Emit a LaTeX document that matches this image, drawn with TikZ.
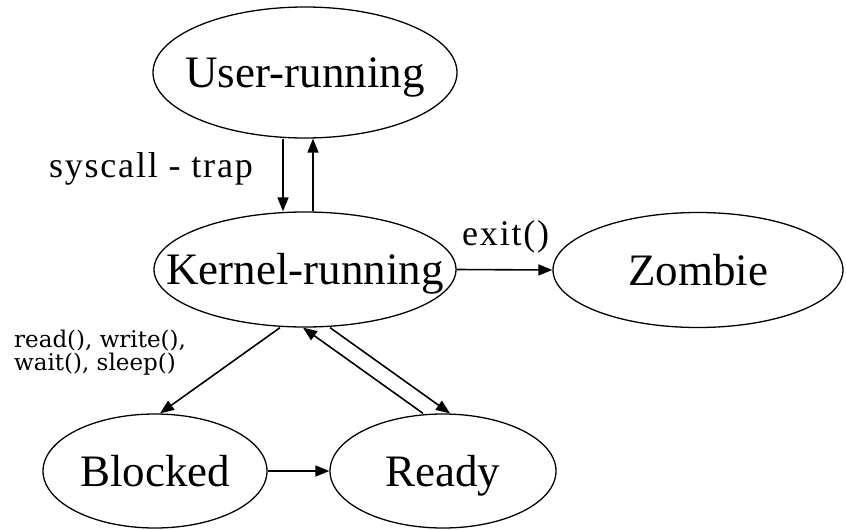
\documentclass[tikz,border=0pt]{standalone}
\usepackage{fontspec}
\setmainfont{Liberation Serif}
\newfontfamily\lblfont[LetterSpace=5]{Liberation Serif}
\newfontfamily\smallfont{DejaVu Serif}
\usetikzlibrary{shapes.geometric,arrows.meta}
\begin{document}
\begin{tikzpicture}[x=1pt,y=-1pt,
  state/.style={ellipse,draw,line width=1.3pt,inner sep=0pt,
    font=\fontsize{45}{50}\selectfont,text height=30pt,text depth=0pt},
  arr/.style={line width=1.6pt,-{Triangle[length=14pt,width=11pt]}},
  lbl/.style={font=\lblfont\fontsize{36}{40}\selectfont,inner sep=0pt},
  smalllbl/.style={font=\smallfont\fontsize{23}{23}\selectfont,inner sep=0pt,align=left}]
\useasboundingbox (0,0) rectangle (846,530);
\node[state,minimum width=304pt,minimum height=131pt] (u) at (305,72.5) {\makebox[0pt]{User-running}};
\node[state,minimum width=302pt,minimum height=115pt] (k) at (305,269.5) {\makebox[0pt]{Kernel-running}};
\node[state,minimum width=290pt,minimum height=115pt] (z) at (698,270) {\makebox[0pt]{Zombie}};
\node[state,minimum width=224pt,minimum height=114pt] (b) at (155,471) {\makebox[0pt]{Blocked}};
\node[state,minimum width=226pt,minimum height=114pt] (r) at (443,471) {\makebox[0pt]{Ready}};
\draw[arr] ([xshift=-22pt]u.south) -- ([xshift=-22pt]k.north);
\draw[arr] ([xshift=8pt]k.north) -- ([xshift=8pt]u.south);
\draw[arr] (k.east) -- (z.west);
\draw[arr] ([xshift=-25pt]k.south) -- ([xshift=5pt]b.north);
\draw[arr] ([xshift=25pt]k.south) -- ([xshift=7pt]r.north);
\draw[arr] ([xshift=-20pt]r.north) -- ([xshift=-2pt]k.south);
\draw[arr] (b.east) -- (r.west);
\node[lbl,anchor=base east] (sc) at (253,177) {syscall - trap};
\node[lbl,anchor=base west] (ex) at (462,245) {exit()};
\node[smalllbl,anchor=north west] (rw) at (14,330) {read(), write(),\\wait(), sleep()};
\end{tikzpicture}
\end{document}
